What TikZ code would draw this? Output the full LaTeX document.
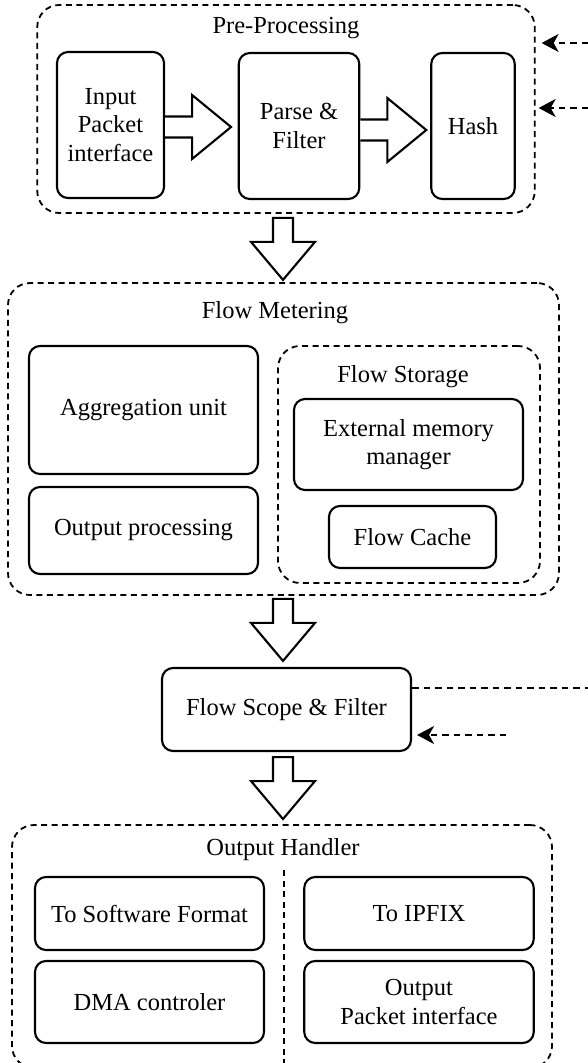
\documentclass[tikz,border=0pt]{standalone}
\usepackage{fontspec}
\setmainfont{Liberation Serif}
\usetikzlibrary{arrows.meta,calc}
\begin{document}
\begin{tikzpicture}[x=1pt,y=-1pt,
  font=\fontsize{24.5}{28.5}\selectfont,
  sbox/.style={draw, line width=2.1pt, rounded corners=11pt, align=center, inner sep=0pt},
  dbox/.style={draw, line width=1.8pt, dash pattern=on 6pt off 4.5pt, rounded corners=22pt, inner sep=0pt},
  title/.style={anchor=base, inner sep=0pt},
  blk/.style={draw, line width=2.1pt, fill=white, line join=miter},
  dline/.style={line width=1.8pt, dash pattern=on 6.5pt off 5pt},
  darrow/.style={dline, -{Stealth[length=17pt,width=18pt,inset=5pt]}},
  rarrow/.pic={\draw[blk] (0,-10.5) -- (27,-10.5) -- (27,-32) -- (66,0) -- (27,32) -- (27,10.5) -- (0,10.5);},
  darr/.pic={\draw[blk] (-10,0) -- (-10,24) -- (-32,24) -- (0,62) -- (32,24) -- (10,24) -- (10,0) -- cycle;}
]
\useasboundingbox (0,0) rectangle (588,1063);
\clip (0,0) rectangle (588,1063);

% Pre-processing stage
\node[dbox, minimum width=497.5pt, minimum height=208pt] (pre) at (286,109) {};
\node[title] (preT) at (286,33) {Pre-Processing};
\node[sbox, minimum width=107pt, minimum height=146pt] (inp) at (110.5,125) {Input\\Packet\\interface};
\node[sbox, minimum width=120.5pt, minimum height=146pt] (par) at (299,126) {Parse \&\\Filter};
\node[sbox, minimum width=83.5pt, minimum height=146pt] (hash) at (473,126) {Hash};
\pic at ([yshift=-2pt]inp.east) {rarrow};
\pic at ([yshift=-4pt]par.east) {rarrow};

% Flow metering stage
\node[dbox, minimum width=551pt, minimum height=312pt] (fm) at (283.5,439) {};
\node[title] (fmT) at (275,318) {Flow Metering};
\node[sbox, minimum width=229pt, minimum height=128pt] (agg) at (143.5,410) {Aggregation unit};
\node[sbox, minimum width=229pt, minimum height=87pt] (outp) at (143.5,530.5) {Output processing};
\node[dbox, minimum width=262pt, minimum height=237pt] (fs) at (409,464.5) {};
\node[title] (fsT) at (403,382) {Flow Storage};
\node[sbox, minimum width=229pt, minimum height=91pt] (ext) at (408.5,444.5) {External memory\\manager};
\node[sbox, minimum width=167pt, minimum height=62pt] (cache) at (412.5,537) {Flow Cache};

% Flow scope
\node[sbox, minimum width=249pt, minimum height=83pt] (fsf) at (286.5,709.5) {Flow Scope \& Filter};

% Output handler
\node[dbox, minimum width=540pt, minimum height=243pt] (oh) at (282,946.5) {};
\node[title] (ohT) at (283,855) {Output Handler};
\node[sbox, minimum width=229pt, minimum height=73pt] (sw) at (149.5,913.5) {To Software Format};
\node[sbox, minimum width=229pt, minimum height=82pt] (dma) at (149.5,1002) {DMA controler};
\node[sbox, minimum width=229.5pt, minimum height=73pt] (ipfix) at (419,913.5) {To IPFIX};
\node[sbox, minimum width=229.5pt, minimum height=82pt] (opi) at (419,1002) {Output\\Packet interface};
\coordinate (dv) at (284,870);
\draw[dash pattern=on 6pt off 4.5pt, line width=1.8pt] (dv) -- (dv |- oh.south);

% Stage-to-stage block arrows
\coordinate (axis) at (283,0);
\pic at ($(axis |- pre.south)+(0,4)$) {darr};
\pic at ($(axis |- fm.south)+(0,3)$) {darr};
\pic at ($(axis |- fsf.south)+(0,5)$) {darr};

% Side signals
\coordinate (c1) at (588,43);
\coordinate (c2) at (588,108);
\draw[darrow, shorten >=6pt] (c1) -- (c1 -| pre.east);
\draw[darrow, shorten >=3pt] (c2) -- (c2 -| pre.east);
\coordinate (c3) at (588,688);
\draw[dline] (c3 -| fsf.east) -- (c3);
\coordinate (c4) at (506,735);
\draw[darrow, shorten >=5pt] (c4) -- (c4 -| fsf.east);
\end{tikzpicture}
\end{document}
